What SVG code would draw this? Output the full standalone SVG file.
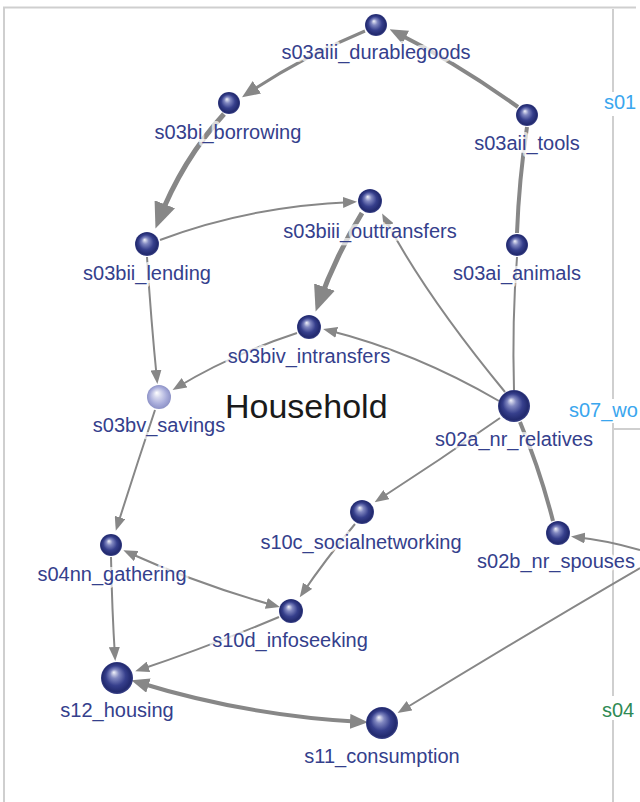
<svg xmlns="http://www.w3.org/2000/svg" width="640" height="802" viewBox="0 0 640 802">
<style>
.e{fill:none;stroke:#878787;stroke-width:2}
.e3{stroke-width:3}
.e4{stroke-width:4}
.e5{stroke-width:5}
.lbl{font-family:"Liberation Sans",Arial,sans-serif;font-size:20px;fill:#34408c;text-anchor:middle;stroke:#fff;stroke-width:6px;stroke-opacity:0.7;stroke-linejoin:round;paint-order:stroke}
.side{font-family:"Liberation Sans",Arial,sans-serif;font-size:20px}
.frame{stroke:#cfcfcf;stroke-width:2;fill:none}
</style>
<defs>
<radialGradient id="gN" cx="0.5" cy="0.5" r="0.5" fx="0.4" fy="0.32">
<stop offset="0" stop-color="#f2f3fa"/>
<stop offset="0.28" stop-color="#8087c0"/>
<stop offset="0.62" stop-color="#363f8c"/>
<stop offset="0.9" stop-color="#222a6e"/>
<stop offset="1" stop-color="#3a4288"/>
</radialGradient>
<radialGradient id="gL" cx="0.5" cy="0.5" r="0.5" fx="0.4" fy="0.32">
<stop offset="0" stop-color="#ffffff"/>
<stop offset="0.3" stop-color="#d6d8ee"/>
<stop offset="0.7" stop-color="#a9addb"/>
<stop offset="1" stop-color="#8d92c6"/>
</radialGradient>
<marker id="aS" markerUnits="userSpaceOnUse" markerWidth="14" markerHeight="11" refX="10" refY="5.5" orient="auto-start-reverse"><path d="M0,0 L14,5.5 L0,11 z" fill="#878787"/></marker>
<marker id="aM" markerUnits="userSpaceOnUse" markerWidth="18" markerHeight="15" refX="12" refY="7.5" orient="auto-start-reverse"><path d="M0,0 L18,7.5 L0,15 z" fill="#878787"/></marker>
<marker id="aL" markerUnits="userSpaceOnUse" markerWidth="26" markerHeight="22" refX="19" refY="11" orient="auto-start-reverse"><path d="M0,0 L26,11 L0,22 z" fill="#878787"/></marker>
</defs>
<rect x="0" y="0" width="640" height="802" fill="#fff"/>
<g id="frame">
<path class="frame" d="M4,802 V7.5 H636"/>
<path class="frame" d="M613,9 V802 M613,429 H640"/>
<rect x="602" y="92" width="38" height="24" fill="#fff"/>
<rect x="567" y="399" width="73" height="24" fill="#fff"/>
<rect x="600" y="696" width="40" height="24" fill="#fff"/>
<text class="side" x="604" y="109" fill="#3aa6ee">s01</text>
<text class="side" x="569" y="417" fill="#3aa6ee">s07_wo</text>
<text class="side" x="602" y="717" fill="#2f8a55">s04</text>
</g>
<g id="connectors">
<path class="e e4" d="M518,107 Q455,62 395,32" marker-end="url(#aM)"/>
<path class="e e3" d="M365,31 Q300,58 247,94" marker-end="url(#aM)"/>
<path class="e e5" d="M224,114 Q182,160 158,222" marker-end="url(#aL)"/>
<path class="e" d="M160,240 Q250,206 353,202" marker-end="url(#aS)"/>
<path class="e" d="M147,257 Q151,320 157,380" marker-end="url(#aS)"/>
<path class="e e5" d="M362,213 Q336,255 318,305" marker-end="url(#aL)"/>
<path class="e" d="M297,333 Q230,355 176,388" marker-end="url(#aS)"/>
<path class="e" d="M499,401 Q415,352 327,330" marker-end="url(#aS)"/>
<path class="e" d="M505,392 Q425,295 384,217" marker-end="url(#aS)"/>
<path class="e e4" d="M527,127 Q519,180 517,233"/>
<path class="e" d="M517,257 Q512,320 514,390"/>
<path class="e" d="M500,418 Q440,460 378,500" marker-end="url(#aS)"/>
<path class="e e4" d="M520,422 Q540,470 553,521"/>
<path class="e" d="M640,550 Q605,540 575,537" marker-end="url(#aS)"/>
<path class="e" d="M640,568 Q525,635 401,711" marker-end="url(#aS)"/>
<path class="e" d="M155,410 Q135,470 117,527" marker-end="url(#aS)"/>
<path class="e" d="M127,552 Q200,585 276,606" marker-start="url(#aS)" marker-end="url(#aS)"/>
<path class="e" d="M355,524 Q325,560 302,594" marker-end="url(#aS)"/>
<path class="e" d="M111,557 Q112,610 115,657" marker-end="url(#aS)"/>
<path class="e" d="M279,617 Q205,648 139,670" marker-end="url(#aS)"/>
<path class="e e4" d="M137,682 Q247,716 362,722" marker-start="url(#aM)" marker-end="url(#aM)"/>
</g>
<g id="title"><text x="225" y="418" font-family="Liberation Sans,Arial,sans-serif" font-size="34" fill="#1a1a1a">Household</text></g>
<g id="n-durablegoods"><circle cx="376" cy="25" r="11" fill="url(#gN)"/><text class="lbl" x="376" y="59">s03aiii_durablegoods</text></g>
<g id="n-borrowing"><circle cx="229" cy="103" r="11" fill="url(#gN)"/><text class="lbl" x="228" y="139">s03bi_borrowing</text></g>
<g id="n-tools"><circle cx="527" cy="115" r="11" fill="url(#gN)"/><text class="lbl" x="527" y="150">s03aii_tools</text></g>
<g id="n-lending"><circle cx="147" cy="244" r="12" fill="url(#gN)"/><text class="lbl" x="147" y="280">s03bii_lending</text></g>
<g id="n-outtransfers"><circle cx="370" cy="201" r="12" fill="url(#gN)"/><text class="lbl" x="370" y="238">s03biii_outtransfers</text></g>
<g id="n-animals"><circle cx="517" cy="245" r="11" fill="url(#gN)"/><text class="lbl" x="517" y="280">s03ai_animals</text></g>
<g id="n-intransfers"><circle cx="309" cy="327" r="12" fill="url(#gN)"/><text class="lbl" x="309" y="363">s03biv_intransfers</text></g>
<g id="n-savings"><circle cx="159" cy="397" r="12" fill="url(#gL)"/><text class="lbl" x="159" y="432">s03bv_savings</text></g>
<g id="n-relatives"><circle cx="514" cy="406" r="16" fill="url(#gN)"/><text class="lbl" x="514" y="446">s02a_nr_relatives</text></g>
<g id="n-socialnetworking"><circle cx="362" cy="512" r="12" fill="url(#gN)"/><text class="lbl" x="361" y="549">s10c_socialnetworking</text></g>
<g id="n-spouses"><circle cx="558" cy="533" r="12" fill="url(#gN)"/><text class="lbl" x="556" y="568">s02b_nr_spouses</text></g>
<g id="n-gathering"><circle cx="111" cy="545" r="11" fill="url(#gN)"/><text class="lbl" x="112" y="581">s04nn_gathering</text></g>
<g id="n-infoseeking"><circle cx="291" cy="611" r="12" fill="url(#gN)"/><text class="lbl" x="290" y="647">s10d_infoseeking</text></g>
<g id="n-housing"><circle cx="117" cy="678" r="16" fill="url(#gN)"/><text class="lbl" x="117" y="717">s12_housing</text></g>
<g id="n-consumption"><circle cx="382" cy="723" r="16" fill="url(#gN)"/><text class="lbl" x="382" y="763">s11_consumption</text></g>
</svg>
